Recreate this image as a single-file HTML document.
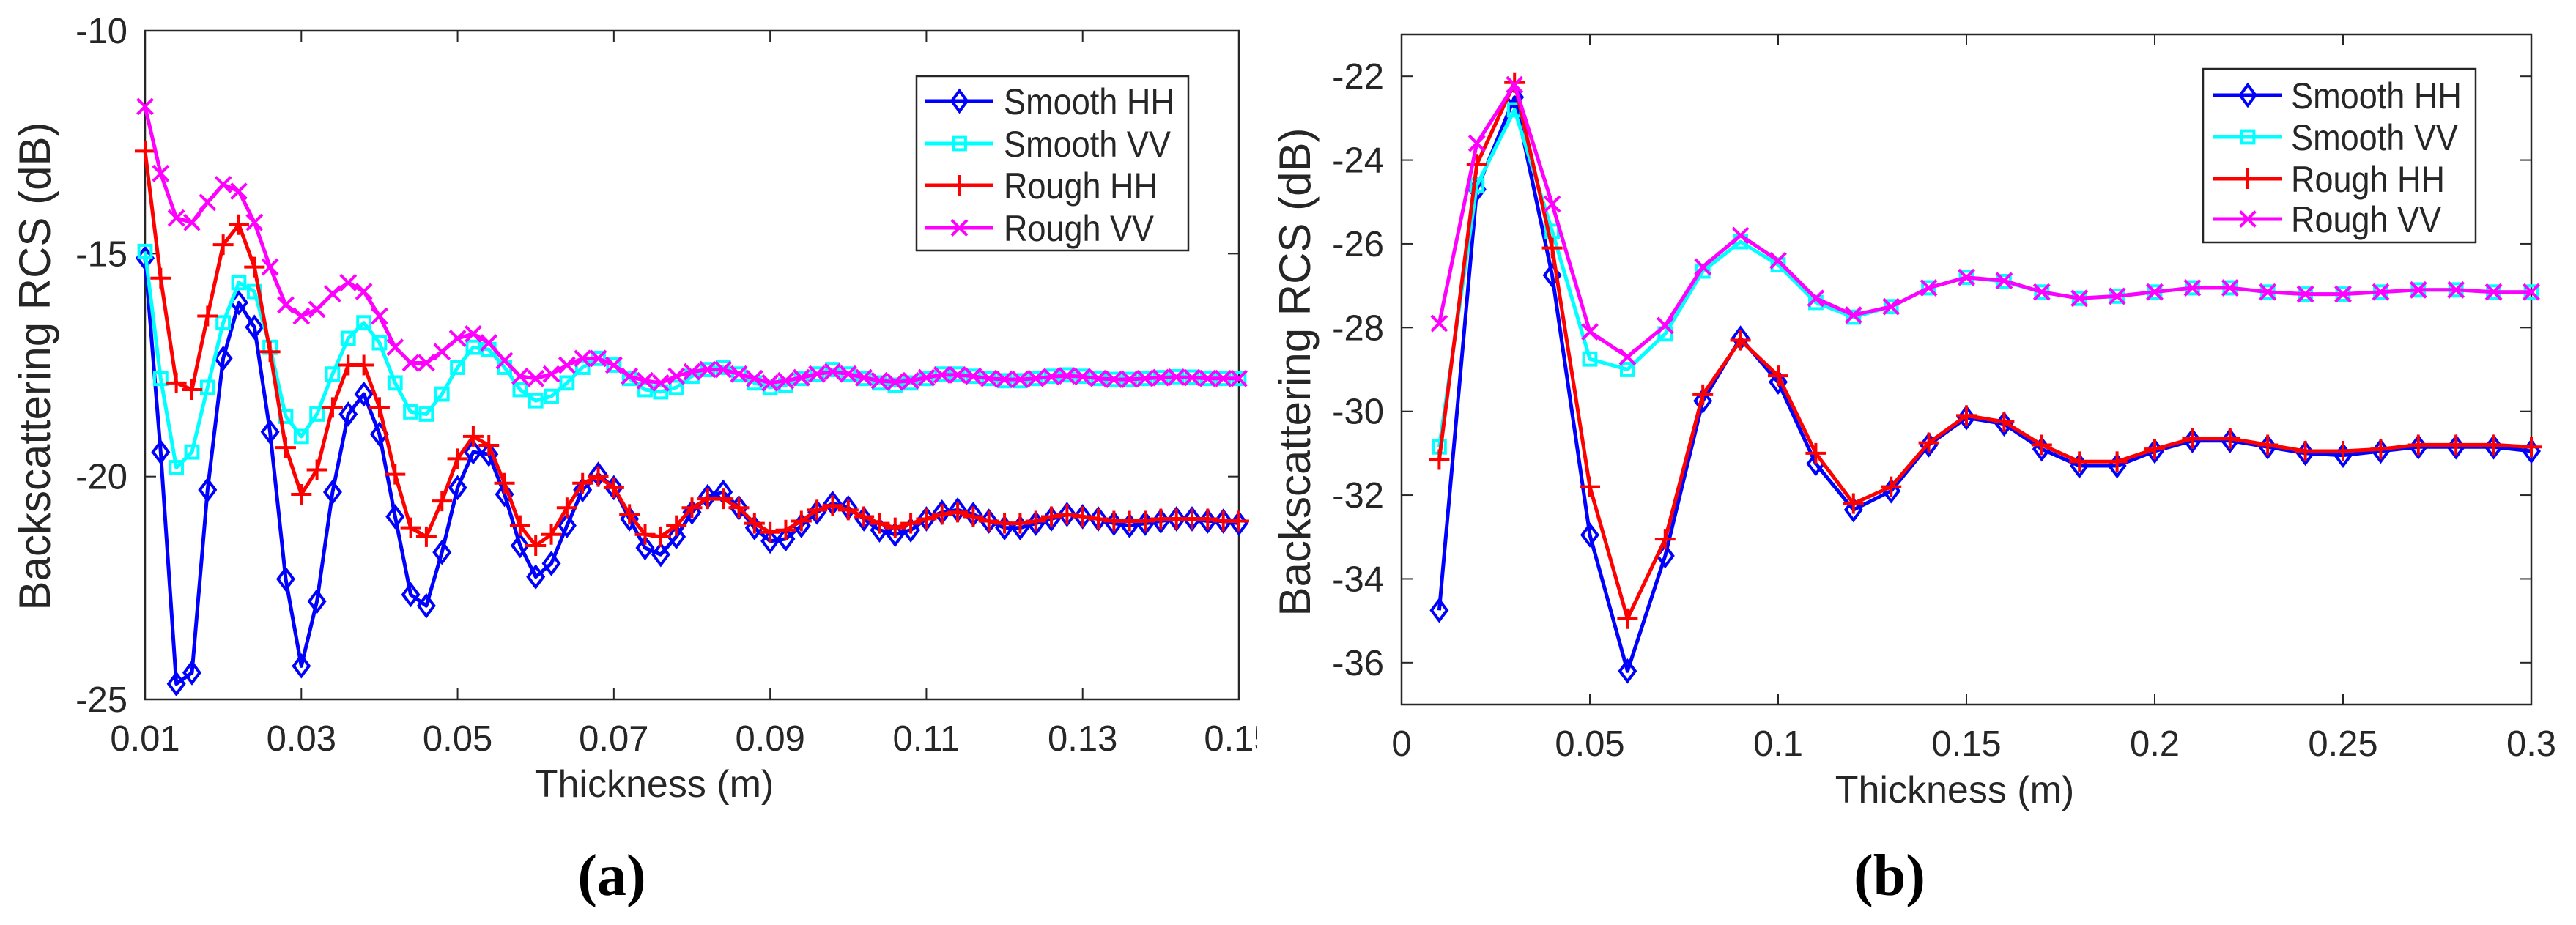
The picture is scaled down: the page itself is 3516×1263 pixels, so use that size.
<!DOCTYPE html>
<html><head><meta charset="utf-8">
<style>
html,body{margin:0;padding:0;background:#fff;}
svg{display:block;}
text{font-family:"Liberation Sans",Arial,sans-serif;fill:#262626;}
</style></head>
<body>
<svg id="fig" width="3516" height="1263" viewBox="0 0 3516 1263" xmlns="http://www.w3.org/2000/svg">
<defs><clipPath id="clipA"><rect x="0" y="0" width="1716" height="1263"/></clipPath></defs>
<g id="panelA" clip-path="url(#clipA)"></g>
<g id="panelB"></g>
<text x="835" y="1222" font-size="80" font-weight="bold" text-anchor="middle" style="font-family:'Liberation Serif',serif;fill:#000">(a)</text>
<text x="2579" y="1222" font-size="80" font-weight="bold" text-anchor="middle" style="font-family:'Liberation Serif',serif;fill:#000">(b)</text>
</svg>
<script>
// ---- Panel (a) data ----
const aThickness = [];
for (let i = 0; i <= 70; i++) aThickness.push(+(0.01 + i * 0.002).toFixed(3));
const aSmoothHH = [-15.1,-19.45,-24.65,-24.4,-20.3,-17.35,-16.1,-16.65,-19.0,-22.3,-24.25,-22.8,-20.35,-18.6,-18.15,-19.05,-20.9,-22.65,-22.9,-21.7,-20.25,-19.45,-19.5,-20.4,-21.55,-22.25,-21.95,-21.1,-20.3,-19.95,-20.25,-20.95,-21.6,-21.75,-21.35,-20.8,-20.45,-20.35,-20.7,-21.15,-21.45,-21.4,-21.1,-20.8,-20.6,-20.7,-20.95,-21.2,-21.3,-21.2,-20.95,-20.8,-20.75,-20.85,-21.0,-21.15,-21.15,-21.05,-20.95,-20.85,-20.9,-20.95,-21.05,-21.1,-21.05,-21.0,-20.95,-20.95,-21.0,-21.0,-21.05];
const aSmoothVV = [-14.95,-17.8,-19.8,-19.45,-18.0,-16.55,-15.65,-15.85,-17.1,-18.65,-19.1,-18.6,-17.7,-16.9,-16.55,-17.0,-17.9,-18.55,-18.6,-18.15,-17.55,-17.1,-17.15,-17.55,-18.05,-18.3,-18.2,-17.9,-17.55,-17.35,-17.5,-17.8,-18.05,-18.1,-18.0,-17.75,-17.6,-17.55,-17.7,-17.9,-18.0,-17.95,-17.8,-17.7,-17.6,-17.7,-17.8,-17.9,-17.95,-17.9,-17.8,-17.7,-17.7,-17.75,-17.8,-17.85,-17.85,-17.8,-17.75,-17.72,-17.75,-17.8,-17.82,-17.82,-17.8,-17.78,-17.76,-17.77,-17.8,-17.8,-17.8];
const aRoughHH = [-12.7,-15.55,-17.9,-18.05,-16.4,-14.8,-14.35,-15.3,-17.2,-19.35,-20.4,-19.85,-18.45,-17.5,-17.5,-18.45,-19.95,-21.15,-21.35,-20.55,-19.6,-19.1,-19.3,-20.15,-21.1,-21.55,-21.3,-20.7,-20.15,-20.0,-20.25,-20.85,-21.3,-21.35,-21.1,-20.7,-20.5,-20.5,-20.7,-21.05,-21.25,-21.2,-21.0,-20.75,-20.65,-20.75,-20.9,-21.05,-21.15,-21.05,-20.95,-20.85,-20.8,-20.9,-21.0,-21.05,-21.05,-21.0,-20.9,-20.85,-20.9,-20.95,-21.0,-21.0,-21.0,-20.95,-20.95,-20.95,-20.95,-21.0,-21.0];
const aRoughVV = [-11.7,-13.2,-14.2,-14.3,-13.85,-13.45,-13.6,-14.3,-15.3,-16.15,-16.4,-16.25,-15.9,-15.65,-15.85,-16.4,-17.1,-17.45,-17.45,-17.2,-16.9,-16.8,-17.0,-17.4,-17.75,-17.8,-17.7,-17.5,-17.35,-17.35,-17.5,-17.75,-17.85,-17.9,-17.75,-17.65,-17.6,-17.6,-17.7,-17.8,-17.9,-17.85,-17.78,-17.7,-17.65,-17.7,-17.78,-17.85,-17.88,-17.85,-17.78,-17.72,-17.72,-17.75,-17.8,-17.82,-17.82,-17.8,-17.76,-17.74,-17.76,-17.8,-17.82,-17.82,-17.8,-17.78,-17.77,-17.78,-17.8,-17.8,-17.8];
const aXTicks = [0.01,0.03,0.05,0.07,0.09,0.11,0.13,0.15];
const aXTickLabels = ["0.01","0.03","0.05","0.07","0.09","0.11","0.13","0.15"];
const aYTicks = [-25,-20,-15,-10];
const aYTickLabels = ["-25","-20","-15","-10"];

// ---- Panel (b) data ----
const bThickness = [];
for (let i = 1; i <= 30; i++) bThickness.push(+(i * 0.01).toFixed(2));
const bSmoothHH = [-34.75,-24.7,-22.5,-26.75,-32.95,-36.2,-33.45,-29.75,-28.25,-29.3,-31.25,-32.35,-31.9,-30.8,-30.15,-30.3,-30.9,-31.3,-31.3,-30.95,-30.7,-30.7,-30.85,-31.0,-31.05,-30.95,-30.85,-30.85,-30.85,-30.95];
const bSmoothVV = [-30.85,-24.6,-22.8,-25.7,-28.75,-29.0,-28.15,-26.65,-25.95,-26.5,-27.4,-27.75,-27.5,-27.05,-26.8,-26.9,-27.15,-27.3,-27.25,-27.15,-27.05,-27.05,-27.15,-27.2,-27.2,-27.15,-27.1,-27.1,-27.15,-27.15];
const bRoughHH = [-31.15,-24.1,-22.15,-26.1,-31.8,-34.95,-33.05,-29.6,-28.3,-29.15,-31.0,-32.2,-31.8,-30.75,-30.1,-30.25,-30.8,-31.2,-31.2,-30.9,-30.65,-30.65,-30.8,-30.95,-30.95,-30.9,-30.8,-30.8,-30.8,-30.85];
const bRoughVV = [-27.9,-23.6,-22.2,-25.05,-28.1,-28.7,-27.95,-26.55,-25.8,-26.4,-27.3,-27.7,-27.5,-27.05,-26.8,-26.88,-27.15,-27.3,-27.25,-27.15,-27.05,-27.05,-27.15,-27.2,-27.2,-27.15,-27.1,-27.1,-27.15,-27.15];
const bXTicks = [0,0.05,0.1,0.15,0.2,0.25,0.3];
const bXTickLabels = ["0","0.05","0.1","0.15","0.2","0.25","0.3"];
const bYTicks = [-36,-34,-32,-30,-28,-26,-24,-22];
const bYTickLabels = ["-36","-34","-32","-30","-28","-26","-24","-22"];

const seriesNames = ["Smooth HH","Smooth VV","Rough HH","Rough VV"];
const seriesColors = ["#0000ff","#00ffff","#ff0000","#ff00ff"];
const seriesMarkers = ["diamond","square","plus","cross"];

const NS = "http://www.w3.org/2000/svg";
function mk(tag, attrs, parent) {
  const e = document.createElementNS(NS, tag);
  for (const k in attrs) e.setAttribute(k, attrs[k]);
  parent.appendChild(e);
  return e;
}
function drawMarker(g, type, x, y, color, s) {
  let m;
  if (type === "diamond") {
    m = mk("polygon", {points:`${x},${y-s} ${x+s*0.75},${y} ${x},${y+s} ${x-s*0.75},${y}`, fill:"none", stroke:color, "stroke-width":4}, g);
  } else if (type === "square") {
    const h = s*0.6;
    m = mk("rect", {x:x-h, y:y-h, width:2*h, height:2*h, fill:"none", stroke:color, "stroke-width":4}, g);
  } else if (type === "plus") {
    m = mk("path", {d:`M${x-s} ${y}H${x+s}M${x} ${y-s}V${y+s}`, stroke:color, "stroke-width":4, fill:"none"}, g);
  } else {
    const h = s*0.75;
    m = mk("path", {d:`M${x-h} ${y-h}L${x+h} ${y+h}M${x-h} ${y+h}L${x+h} ${y-h}`, stroke:color, "stroke-width":4, fill:"none"}, g);
  }
  
  
}

function drawPanel(root, cfg) {
  const {L,R,T,B,xmin,xmax,ymin,ymax} = cfg;
  const sx = v => L + (v - xmin) / (xmax - xmin) * (R - L);
  const sy = v => B - (v - ymin) / (ymax - ymin) * (B - T);
  const axis = mk("g", {}, root);
  
  
  mk("rect", {x:L, y:T, width:R-L, height:B-T, fill:"#fff", stroke:"#262626", "stroke-width":2.5}, axis);
  cfg.xTicks.forEach((v, i) => {
    const x = sx(v);
    mk("line", {x1:x, y1:B, x2:x, y2:B-15, stroke:"#262626", "stroke-width":2}, axis);
    mk("line", {x1:x, y1:T, x2:x, y2:T+15, stroke:"#262626", "stroke-width":2}, axis);
    const t = mk("text", {x:x, y:B+70, "font-size":49, "text-anchor":"middle"}, root);
    t.textContent = cfg.xTickLabels[i];
    
    
  });
  cfg.yTicks.forEach((v, i) => {
    const y = sy(v);
    mk("line", {x1:L, y1:y, x2:L+15, y2:y, stroke:"#262626", "stroke-width":2}, axis);
    mk("line", {x1:R, y1:y, x2:R-15, y2:y, stroke:"#262626", "stroke-width":2}, axis);
    const t = mk("text", {x:L-24, y:y+17, "font-size":49, "text-anchor":"end"}, root);
    t.textContent = cfg.yTickLabels[i];
    
    
  });
  const xt = mk("text", {x:cfg.xTitleX, y:cfg.xTitleY, "font-size":52, "text-anchor":"middle"}, root);
  xt.textContent = "Thickness (m)";
  
  
  const yt = mk("text", {x:0, y:0, "font-size":60, "text-anchor":"middle", transform:`translate(${cfg.yTitleX},${cfg.yTitleY}) rotate(-90)`}, root);
  yt.textContent = "Backscattering RCS (dB)";
  
  

  cfg.series.forEach((vals, si) => {
    const g = mk("g", {}, root);
    
    
    const pts = vals.map((v, i) => `${sx(cfg.xs[i]).toFixed(1)},${sy(v).toFixed(1)}`).join(" ");
    const pl = mk("polyline", {points:pts, fill:"none", stroke:seriesColors[si], "stroke-width":5, "stroke-linejoin":"round"}, g);
    
    
    vals.forEach((v, i) => drawMarker(g, seriesMarkers[si], sx(cfg.xs[i]), sy(v), seriesColors[si], 14));
  });

  const lg = mk("g", {}, root);
  
  
  const lb = cfg.legend;
  mk("rect", {x:lb.x, y:lb.y, width:lb.w, height:lb.h, fill:"#fff", stroke:"#262626", "stroke-width":2.5}, lg);
  seriesNames.forEach((n, si) => {
    const ent = mk("g", {}, lg);
    
    
    const cy = lb.rows[si];
    mk("line", {x1:lb.lx1, y1:cy, x2:lb.lx2, y2:cy, stroke:seriesColors[si], "stroke-width":5}, ent);
    drawMarker(ent, seriesMarkers[si], (lb.lx1 + lb.lx2) / 2, cy, seriesColors[si], 14);
    const t = mk("text", {x:lb.tx, y:cy+18, "font-size":50, textLength:lb.tl[si], lengthAdjust:"spacingAndGlyphs"}, ent);
    t.textContent = n;
  });
}

drawPanel(document.getElementById("panelA"), {
  L:198, R:1691, T:42, B:955, xmin:0.01, xmax:0.15, ymin:-25, ymax:-10,
  xTicks:aXTicks, xTickLabels:aXTickLabels, yTicks:aYTicks, yTickLabels:aYTickLabels,
  xs:aThickness, series:[aSmoothHH, aSmoothVV, aRoughHH, aRoughVV],
  xTitleX:893, xTitleY:1088, yTitleX:68, yTitleY:500,
  legend:{x:1251, y:104, w:371, h:238, rows:[138,196,253,311], lx1:1263, lx2:1356, tx:1370, tl:[233,228,210,205]}
});
drawPanel(document.getElementById("panelB"), {
  L:1913, R:3455, T:47, B:962, xmin:0, xmax:0.3, ymin:-37, ymax:-21,
  xTicks:bXTicks, xTickLabels:bXTickLabels, yTicks:bYTicks, yTickLabels:bYTickLabels,
  xs:bThickness, series:[bSmoothHH, bSmoothVV, bRoughHH, bRoughVV],
  xTitleX:2668, xTitleY:1096, yTitleX:1788, yTitleY:508,
  legend:{x:3007, y:94, w:372, h:237, rows:[130,187,244,299], lx1:3021, lx2:3115, tx:3127, tl:[233,228,210,205]}
});
</script>
</body></html>
